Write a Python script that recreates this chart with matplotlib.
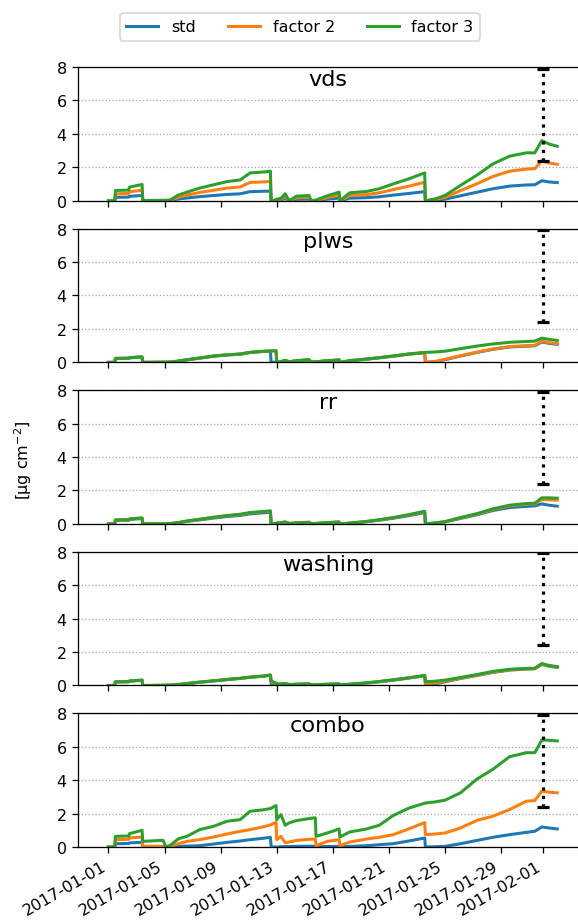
import numpy as np
import pandas as pd
import matplotlib
matplotlib.use("Agg")
import matplotlib.pyplot as plt

# time of each sample, in days after 2017-01-01 00:00
days = [0.0, 0.45, 0.5, 1.45, 1.5, 2.4, 2.45, 3.9, 4.1, 4.4,
        5.0, 5.6, 6.5, 7.5, 8.45, 9.4, 10.1, 11.0, 11.55, 11.6,
        11.95, 12.0, 12.3, 12.6, 12.9, 13.4, 14.3, 14.45, 14.75, 14.8,
        15.6, 16.45, 16.5, 17.2, 18.4, 19.3, 20.3, 21.4, 22.55, 22.6,
        23.3, 24.0, 25.1, 26.3, 27.4, 28.6, 29.8, 30.4, 30.9, 31.4,
        32.0]

panel_names = ["vds", "plws", "rr", "washing", "combo"]
series_names = ["std", "factor 2", "factor 3"]

vds_std = [0, 0, 0.21, 0.22, 0.27, 0.32, 0.01, 0.01, 0.01, 0.02,
           0.11, 0.17, 0.25, 0.32, 0.38, 0.42, 0.55, 0.57, 0.58, 0,
           0.02, 0.03, 0.05, 0.14, 0, 0.09, 0.1, 0.01, 0.01, 0.02,
           0.1, 0.17, 0, 0.16, 0.19, 0.24, 0.34, 0.44, 0.55, 0,
           0.04, 0.1, 0.3, 0.52, 0.72, 0.88, 0.95, 0.96, 1.2, 1.13,
           1.09]
vds_f2 = [0, 0, 0.42, 0.44, 0.55, 0.63, 0.02, 0.02, 0.02, 0.03,
          0.22, 0.34, 0.5, 0.63, 0.76, 0.83, 1.1, 1.13, 1.16, 0,
          0.03, 0.06, 0.1, 0.27, 0, 0.18, 0.21, 0.01, 0.02, 0.03,
          0.2, 0.34, 0, 0.32, 0.37, 0.48, 0.67, 0.87, 1.11, 0,
          0.08, 0.21, 0.61, 1.03, 1.45, 1.77, 1.9, 1.92, 2.4, 2.27,
          2.18]
vds_f3 = [0, 0, 0.62, 0.64, 0.82, 0.98, 0.02, 0.03, 0.03, 0.05,
          0.35, 0.52, 0.76, 0.96, 1.15, 1.25, 1.67, 1.72, 1.77, 0,
          0.05, 0.1, 0.15, 0.42, 0, 0.28, 0.32, 0.02, 0.04, 0.05,
          0.3, 0.52, 0, 0.48, 0.56, 0.72, 1.01, 1.31, 1.67, 0,
          0.12, 0.32, 0.92, 1.55, 2.2, 2.67, 2.87, 2.87, 3.6, 3.4,
          3.26]

plws_std = [0, 0, 0.23, 0.24, 0.27, 0.32, 0, 0.01, 0.01, 0.02,
            0.07, 0.15, 0.25, 0.37, 0.44, 0.49, 0.59, 0.65, 0.67, 0,
            0.02, 0, 0.04, 0.1, 0.03, 0.09, 0.14, 0.02, 0.03, 0.03,
            0.09, 0.14, 0, 0.09, 0.19, 0.27, 0.37, 0.49, 0.58, 0,
            0.04, 0.16, 0.38, 0.6, 0.78, 0.92, 0.97, 0.99, 1.22, 1.14,
            1.08]
plws_f2 = [0, 0, 0.24, 0.25, 0.28, 0.33, 0, 0.01, 0.01, 0.02,
           0.08, 0.16, 0.26, 0.38, 0.45, 0.5, 0.6, 0.66, 0.68, 0.68,
           0.7, 0, 0.05, 0.12, 0.04, 0.1, 0.16, 0.02, 0.03, 0.04,
           0.1, 0.15, 0, 0.1, 0.2, 0.28, 0.38, 0.5, 0.59, 0,
           0.05, 0.18, 0.4, 0.62, 0.8, 0.95, 1.0, 1.02, 1.27, 1.18,
           1.12]
plws_f3 = [0, 0, 0.24, 0.25, 0.28, 0.33, 0, 0.01, 0.01, 0.02,
           0.08, 0.16, 0.26, 0.38, 0.45, 0.5, 0.6, 0.66, 0.68, 0.68,
           0.7, 0, 0.05, 0.12, 0.04, 0.1, 0.16, 0.02, 0.03, 0.04,
           0.1, 0.15, 0, 0.1, 0.2, 0.28, 0.38, 0.5, 0.59, 0.6,
           0.62, 0.67, 0.82, 0.98, 1.1, 1.2, 1.25, 1.27, 1.45, 1.38,
           1.31]

rr_std = [0, 0, 0.21, 0.22, 0.27, 0.32, 0, 0.01, 0.01, 0.02,
          0.07, 0.15, 0.24, 0.35, 0.44, 0.51, 0.6, 0.66, 0.7, 0,
          0.02, 0.04, 0.07, 0.1, 0.02, 0.05, 0.08, 0.02, 0.02, 0.02,
          0.07, 0.1, 0, 0.04, 0.13, 0.22, 0.34, 0.49, 0.68, 0,
          0.05, 0.12, 0.33, 0.55, 0.8, 0.98, 1.05, 1.08, 1.2, 1.12,
          1.06]
rr_f2 = [0, 0, 0.23, 0.24, 0.29, 0.35, 0, 0.01, 0.01, 0.02,
         0.08, 0.17, 0.27, 0.39, 0.49, 0.56, 0.66, 0.72, 0.76, 0,
         0.03, 0.05, 0.08, 0.11, 0.03, 0.06, 0.1, 0.02, 0.03, 0.03,
         0.08, 0.11, 0, 0.05, 0.14, 0.24, 0.37, 0.53, 0.73, 0,
         0.06, 0.13, 0.36, 0.59, 0.86, 1.08, 1.18, 1.2, 1.46, 1.44,
         1.42]
rr_f3 = [0, 0, 0.24, 0.25, 0.3, 0.36, 0, 0.01, 0.01, 0.02,
         0.08, 0.18, 0.28, 0.4, 0.5, 0.58, 0.68, 0.74, 0.78, 0,
         0.03, 0.05, 0.08, 0.12, 0.03, 0.06, 0.1, 0.02, 0.03, 0.03,
         0.08, 0.12, 0, 0.05, 0.15, 0.25, 0.38, 0.55, 0.76, 0,
         0.06, 0.14, 0.38, 0.62, 0.9, 1.12, 1.22, 1.24, 1.56, 1.56,
         1.54]

washing_std = [0, 0, 0.21, 0.22, 0.26, 0.31, 0, 0.01, 0.01, 0.02,
               0.05, 0.11, 0.19, 0.27, 0.35, 0.42, 0.49, 0.55, 0.61, 0.1,
               0.08, 0.05, 0.07, 0.09, 0.04, 0.06, 0.08, 0.02, 0.03, 0.03,
               0.06, 0.08, 0.01, 0.06, 0.14, 0.22, 0.32, 0.44, 0.58, 0.05,
               0.1, 0.22, 0.42, 0.6, 0.78, 0.92, 0.98, 1.0, 1.26, 1.15,
               1.08]
washing_f2 = [0, 0, 0.22, 0.23, 0.27, 0.32, 0, 0.01, 0.01, 0.02,
              0.06, 0.12, 0.2, 0.28, 0.36, 0.43, 0.5, 0.56, 0.62, 0.2,
              0.12, 0.07, 0.09, 0.11, 0.05, 0.07, 0.09, 0.03, 0.04, 0.04,
              0.07, 0.09, 0.02, 0.07, 0.15, 0.23, 0.33, 0.45, 0.59, 0.12,
              0.16, 0.26, 0.44, 0.62, 0.8, 0.94, 1.0, 1.01, 1.28, 1.17,
              1.1]
washing_f3 = [0, 0, 0.22, 0.23, 0.27, 0.32, 0, 0.01, 0.01, 0.02,
              0.06, 0.12, 0.2, 0.28, 0.36, 0.43, 0.5, 0.56, 0.63, 0.26,
              0.15, 0.08, 0.1, 0.12, 0.06, 0.08, 0.1, 0.04, 0.05, 0.05,
              0.08, 0.1, 0.03, 0.08, 0.16, 0.24, 0.34, 0.46, 0.6, 0.22,
              0.26, 0.32, 0.48, 0.66, 0.84, 0.97, 1.02, 1.03, 1.31, 1.2,
              1.13]

combo_std = [0, 0, 0.2, 0.21, 0.25, 0.28, 0, 0, 0, 0.01,
             0.04, 0.06, 0.08, 0.18, 0.28, 0.36, 0.44, 0.52, 0.58, 0,
             0, 0, 0.02, 0.03, 0.03, 0.04, 0.05, 0.05, 0.05, 0.02,
             0.03, 0.04, 0.02, 0.04, 0.08, 0.14, 0.2, 0.36, 0.54, 0,
             0.02, 0.04, 0.2, 0.4, 0.58, 0.74, 0.88, 0.94, 1.2, 1.14,
             1.08]
combo_f2 = [0, 0, 0.44, 0.46, 0.55, 0.6, 0.05, 0.04, 0.02, 0.05,
            0.2, 0.34, 0.44, 0.6, 0.78, 0.94, 1.04, 1.2, 1.32, 1.34,
            1.48, 0.44, 0.64, 0.26, 0.3, 0.4, 0.46, 0.47, 0.48, 0.08,
            0.34, 0.44, 0.08, 0.3, 0.48, 0.58, 0.74, 1.08, 1.46, 0.74,
            0.78, 0.84, 1.14, 1.6, 1.84, 2.24, 2.74, 2.78, 3.34, 3.28,
            3.24]
combo_f3 = [0, 0, 0.64, 0.66, 0.8, 1.0, 0.34, 0.4, 0.0, 0.1,
            0.5, 0.64, 1.04, 1.24, 1.54, 1.64, 2.14, 2.22, 2.3, 2.32,
            2.48, 1.64, 1.94, 1.3, 1.45, 1.58, 1.7, 1.72, 1.75, 0.64,
            0.84, 1.08, 0.6, 0.9, 1.08, 1.3, 1.88, 2.32, 2.62, 2.63,
            2.7, 2.8, 3.24, 4.08, 4.64, 5.4, 5.64, 5.64, 6.4, 6.38,
            6.34]

panel_data = {
    "vds": [vds_std, vds_f2, vds_f3],
    "plws": [plws_std, plws_f2, plws_f3],
    "rr": [rr_std, rr_f2, rr_f3],
    "washing": [washing_std, washing_f2, washing_f3],
    "combo": [combo_std, combo_f2, combo_f3],
}

# observed range shown as a dotted error bar
err_date = "2017-02-01"
err_low = 2.4
err_high = 7.9

tick_dates = ["2017-01-01", "2017-01-05", "2017-01-09", "2017-01-13",
              "2017-01-17", "2017-01-21", "2017-01-25", "2017-01-29",
              "2017-02-01"]

times = pd.Timestamp("2017-01-01") + pd.to_timedelta(days, unit="D")
colors = ["#1f77b4", "#ff7f0e", "#2ca02c"]

dpi = 115
fig, axes = plt.subplots(5, 1, figsize=(578 / dpi, 925 / dpi), dpi=dpi, sharex=True)
fig.subplots_adjust(left=0.135, right=1.0, top=0.9265, bottom=0.0832, hspace=0.207)

for ax, name in zip(axes, panel_names):
    for vals, label, col in zip(panel_data[name], series_names, colors):
        ax.plot(times, vals, color=col, lw=1.9, label=label)
    eb = ax.errorbar(pd.Timestamp(err_date), err_low, yerr=[[0], [err_high - err_low]],
                     fmt="none", ecolor="black", elinewidth=2, capsize=4, capthick=2)
    eb[2][0].set_linestyle(":")
    ax.set_ylim(0, 8)
    ax.set_yticks([0, 2, 4, 6, 8])
    ax.yaxis.grid(True, ls=":", color="0.65", lw=0.8)
    ax.spines["right"].set_visible(False)
    ax.text(0.5, 0.985, name, transform=ax.transAxes, ha="center", va="top", fontsize=14)

axes[-1].set_xlim(pd.Timestamp("2016-12-29 20:00"), pd.Timestamp("2017-02-03 11:30"))
axes[-1].set_xticks(pd.to_datetime(tick_dates))
axes[-1].set_xticklabels(tick_dates, rotation=30, ha="right")

handles, labels = axes[0].get_legend_handles_labels()
fig.legend(handles, labels, loc="center", bbox_to_anchor=(0.519, 0.970), ncol=3)
fig.supylabel("[µg cm$^{-2}$]", x=0.022, y=0.503, fontsize=10)

fig.savefig("out.png", dpi=dpi)
